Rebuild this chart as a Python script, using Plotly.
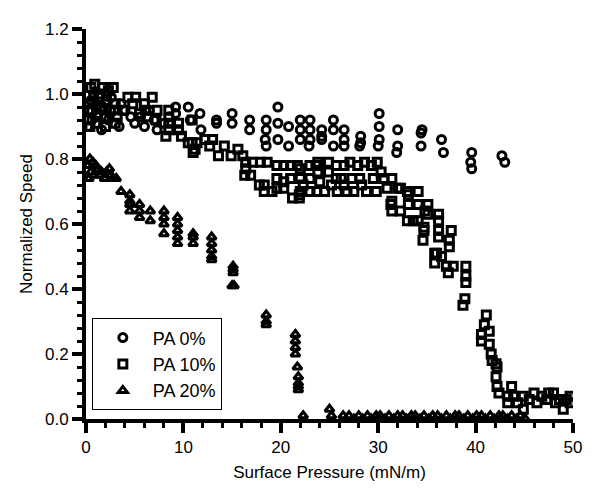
import plotly.graph_objects as go

# ~~~~~~~~~~~~~~~~~~~~~~~~~~~~~~~~~~~~~~~~~~~~~~~~~~~~~~~~~~~~~~~~~~~~~~~~~~~~~~
# values

pa0_x = [0.2, 0.3, 0.5, 0.6, 0.8, 1.0, 1.2, 1.4, 1.6, 1.8, 2.0, 2.3, 2.6, 2.9,
         3.4, 3.6, 4.0, 4.6, 5.0, 5.6, 6.0, 6.5, 7.0, 7.3, 8.0, 8.5, 9.2, 9.2,
         10.5, 10.7, 11.7, 11.8, 13.4, 13.4, 15.0, 15.0, 16.8, 16.8, 18.5, 18.5,
         18.4, 18.5, 19.7, 19.7, 19.7, 20.8, 20.8, 22.0, 22.0, 22.0, 23.0, 23.0,
         23.0, 22.9, 24.2, 24.2, 24.2, 25.4, 25.4, 25.4, 26.5, 26.5, 26.5, 28.2,
         28.2, 28.1, 30.1, 30.1, 30.1, 30.0, 32.0, 32.0, 31.9, 34.5, 34.4, 34.4,
         36.5, 36.7, 39.6, 39.5, 39.6, 42.7, 43.0]
pa0_y = [0.90, 0.95, 0.98, 0.92, 1.00, 0.96, 0.93, 0.99, 0.89, 0.95, 0.97, 0.92, 0.99, 0.95,
         0.90, 0.97, 0.95, 0.93, 0.91, 0.93, 0.90, 0.95, 0.92, 0.89, 0.91, 0.93, 0.96, 0.94,
         0.96, 0.92, 0.94, 0.89, 0.92, 0.91, 0.94, 0.91, 0.92, 0.89, 0.92, 0.89,
         0.86, 0.84, 0.96, 0.91, 0.86, 0.90, 0.84, 0.92, 0.89, 0.86, 0.92, 0.89,
         0.86, 0.84, 0.89, 0.87, 0.86, 0.92, 0.89, 0.84, 0.89, 0.86, 0.84, 0.87,
         0.85, 0.84, 0.94, 0.90, 0.86, 0.84, 0.89, 0.84, 0.82, 0.89, 0.88, 0.84,
         0.86, 0.82, 0.82, 0.79, 0.77, 0.81, 0.79]

pa10_x = [0.2, 0.3, 0.5, 0.6, 0.8, 0.9, 1.1, 1.3, 1.5, 1.7, 1.9, 2.1, 2.3, 2.5, 2.8, 3.0, 3.2,
          0.4, 1.0, 2.0, 3.0, 3.8, 4.3, 4.8, 5.1, 5.5, 6.0, 6.1, 6.3, 6.8, 7.2, 7.3,
          8.2, 8.5, 8.5, 8.5, 9.5, 9.5, 9.8, 10.5, 10.9, 10.9, 11.0, 11.2, 11.4,
          12.2, 12.7, 13.0, 13.6, 14.2, 14.9, 15.6, 16.1, 16.3, 16.4, 16.4, 16.9,
          17.1, 17.8, 17.9, 18.3, 18.3, 18.6, 19.1, 19.6, 19.6, 19.6, 20.3, 20.3,
          20.3, 21.0, 21.0, 21.2, 21.7, 21.9, 21.9, 22.0, 22.0, 22.0, 22.3, 23.0,
          23.0, 23.0, 23.6, 23.7, 23.8, 23.8, 24.0, 24.5, 24.9, 24.9, 25.2, 25.7,
          25.7, 25.8, 26.2, 26.5, 26.5, 26.8, 27.1, 27.3, 27.5, 27.9, 28.1, 28.3,
          28.6, 28.8, 29.3, 29.5, 29.8, 29.9, 30.3, 30.6, 30.9, 31.4, 31.4, 31.4,
          31.3, 32.0, 32.3, 32.3, 33.0, 33.0, 33.1, 33.1, 33.6, 34.1, 34.1, 34.1,
          34.7, 34.7, 34.6, 34.8, 35.1, 35.1, 35.8, 35.8, 36.0, 36.2, 36.2, 36.2,
          36.2, 36.5, 37.0, 37.2, 37.3, 37.3, 37.5, 37.7, 38.7, 38.9, 39.0, 39.0,
          39.0, 40.6, 40.6, 40.9, 41.1, 41.4, 41.4, 41.6, 41.7, 42.1, 42.1, 42.2,
          42.2, 42.4, 43.3, 43.3, 43.7, 43.9, 44.3, 44.9, 44.9, 45.5, 46.0, 46.3,
          46.8, 47.3, 47.5, 48.0, 48.2, 48.6, 49.0, 49.3, 49.7, 49.7]
pa10_y = [0.92, 0.97, 1.02, 0.95, 0.99, 1.03, 0.94, 1.00, 0.96, 1.02, 0.93, 0.98, 1.01, 0.95, 1.02, 0.97, 0.93,
          0.90, 0.91, 0.90, 0.91, 0.95, 0.99, 0.97, 0.99, 0.94, 0.97, 0.95, 0.93, 0.99, 0.92, 0.95,
          0.87, 0.95, 0.91, 0.89, 0.91, 0.89, 0.87, 0.85, 0.92, 0.85, 0.82, 0.83, 0.85,
          0.86, 0.84, 0.86, 0.81, 0.84, 0.81, 0.83, 0.81, 0.75, 0.79, 0.77, 0.75,
          0.79, 0.72, 0.79, 0.72, 0.70, 0.79, 0.70, 0.78, 0.74, 0.71, 0.78, 0.73,
          0.71, 0.78, 0.74, 0.68, 0.78, 0.68, 0.69, 0.77, 0.74, 0.70, 0.72, 0.78,
          0.74, 0.70, 0.78, 0.70, 0.79, 0.76, 0.73, 0.70, 0.79, 0.76, 0.72, 0.78,
          0.74, 0.70, 0.74, 0.78, 0.72, 0.70, 0.79, 0.74, 0.70, 0.78, 0.74, 0.72,
          0.79, 0.70, 0.78, 0.74, 0.70, 0.79, 0.76, 0.74, 0.71, 0.74, 0.67, 0.64,
          0.66, 0.71, 0.71, 0.64, 0.70, 0.61, 0.69, 0.66, 0.61, 0.70, 0.66, 0.61,
          0.59, 0.58, 0.55, 0.64, 0.66, 0.63, 0.51, 0.48, 0.51, 0.63, 0.61, 0.58,
          0.56, 0.50, 0.47, 0.45, 0.55, 0.53, 0.58, 0.47, 0.35, 0.37, 0.47, 0.44,
          0.42, 0.26, 0.24, 0.29, 0.32, 0.27, 0.23, 0.20, 0.18, 0.17, 0.13, 0.16,
          0.10, 0.08, 0.07, 0.05, 0.10, 0.07, 0.05, 0.07, 0.03, 0.06, 0.08, 0.05,
          0.07, 0.06, 0.08, 0.08, 0.05, 0.06, 0.03, 0.06, 0.07, 0.05]

pa20_x = [0.2, 0.3, 0.4, 0.5, 0.7, 0.8, 1.0, 1.2, 1.4, 1.6, 1.9, 2.1, 2.4, 2.5, 2.8, 3.1,
          3.6, 4.5, 4.5, 4.5, 4.5, 5.5, 5.5, 5.5, 6.6, 6.6, 8.0, 8.0, 8.0, 8.0,
          9.4, 9.4, 9.4, 9.4, 9.4, 11.0, 11.0, 11.0, 12.9, 12.9, 12.9, 12.9, 12.9,
          15.1, 15.1, 15.1, 15.0, 15.2, 18.5, 18.5, 18.5, 21.5, 21.5, 21.5, 21.5,
          21.7, 21.8, 21.8, 21.8, 21.8, 22.3, 25.0, 25.2, 26.4, 27.0,
          27.5, 28.0, 28.4, 28.9, 29.3, 29.8, 30.2, 30.7, 31.1, 31.6, 32.0, 32.5,
          32.9, 33.4, 33.8, 34.3, 34.7, 35.2, 35.6, 36.1, 36.5, 37.0, 37.4, 37.9,
          38.3, 38.8, 39.2, 39.7, 40.1, 40.6, 41.0, 41.5, 41.9, 42.4, 42.8, 43.3,
          43.7, 44.2, 44.6, 45.1]
pa20_y = [0.78, 0.74, 0.80, 0.76, 0.79, 0.75, 0.78, 0.77, 0.75, 0.76, 0.74, 0.76, 0.77, 0.75, 0.74, 0.74,
          0.70, 0.69, 0.67, 0.66, 0.64, 0.66, 0.64, 0.62, 0.64, 0.61, 0.64, 0.62, 0.60, 0.57,
          0.62, 0.60, 0.58, 0.56, 0.54, 0.57, 0.56, 0.54, 0.56, 0.54, 0.52, 0.50, 0.49,
          0.47, 0.46, 0.45, 0.41, 0.41, 0.32, 0.30, 0.29, 0.26, 0.24, 0.22, 0.20,
          0.16, 0.13, 0.11, 0.10, 0.09, 0.01, 0.03, 0.01, 0.01, 0.01,
          0.00, 0.01, 0.00, 0.01, 0.00, 0.01, 0.01, 0.00, 0.01, 0.00, 0.01, 0.01,
          0.00, 0.01, 0.01, 0.00, 0.01, 0.00, 0.01, 0.01, 0.00, 0.01, 0.00, 0.01,
          0.01, 0.00, 0.01, 0.00, 0.01, 0.01, 0.00, 0.01, 0.00, 0.01, 0.01, 0.00,
          0.01, 0.00, 0.01, 0.00]

series = [
    ("PA 0%", pa0_x, pa0_y, "circle-open"),
    ("PA 10%", pa10_x, pa10_y, "square-open"),
    ("PA 20%", pa20_x, pa20_y, "triangle-up-open"),
]

font = "Arial, Liberation Sans, sans-serif"

# ~~~~~~~~~~~~~~~~~~~~~~~~~~~~~~~~~~~~~~~~~~~~~~~~~~~~~~~~~~~~~~~~~~~~~~~~~~~~~~
fig = go.Figure()
for name, xs, ys, sym in series:
    fig.add_trace(go.Scatter(
        x=xs, y=ys, mode="markers", name=name,
        marker=dict(symbol=sym, size=8, color="black", line=dict(width=3, color="black")),
    ))

fig.update_xaxes(
    range=[0, 50], tickvals=[0, 10, 20, 30, 40, 50],
    showgrid=False, zeroline=False, showline=True, linecolor="black", linewidth=4,
    ticks="outside", ticklen=10, tickwidth=3.5, tickcolor="black",
    tickfont=dict(family=font, size=17, color="black"),
    minor=dict(dtick=2, ticks="outside", ticklen=5, tickwidth=2.5, tickcolor="black"),
    title=dict(text="Surface Pressure (mN/m)", font=dict(family=font, size=17, color="black"), standoff=11),
)
fig.update_yaxes(
    range=[0, 1.2], tickvals=[0, 0.2, 0.4, 0.6, 0.8, 1.0, 1.2], tickformat=".1f",
    showgrid=False, zeroline=False, showline=True, linecolor="black", linewidth=4,
    ticks="outside", ticklen=10, tickwidth=3.5, tickcolor="black",
    tickfont=dict(family=font, size=17, color="black"),
    minor=dict(dtick=0.04, ticks="outside", ticklen=5, tickwidth=2.5, tickcolor="black"),
    title=dict(text="Normalized Speed", font=dict(family=font, size=17, color="black"), standoff=9),
)

# page body adds an 8px margin, so the figure is shrunk by that much
fig.update_layout(
    width=586, height=486,
    margin=dict(l=78, r=14, t=12, b=75),
    plot_bgcolor="white", paper_bgcolor="white",
    showlegend=True,
    legend=dict(
        x=0.012, y=0.258, xanchor="left", yanchor="top",
        bgcolor="white", bordercolor="black", borderwidth=1,
        itemwidth=50, font=dict(family=font, size=18, color="black"),
    ),
)

fig.write_html("out.html")
